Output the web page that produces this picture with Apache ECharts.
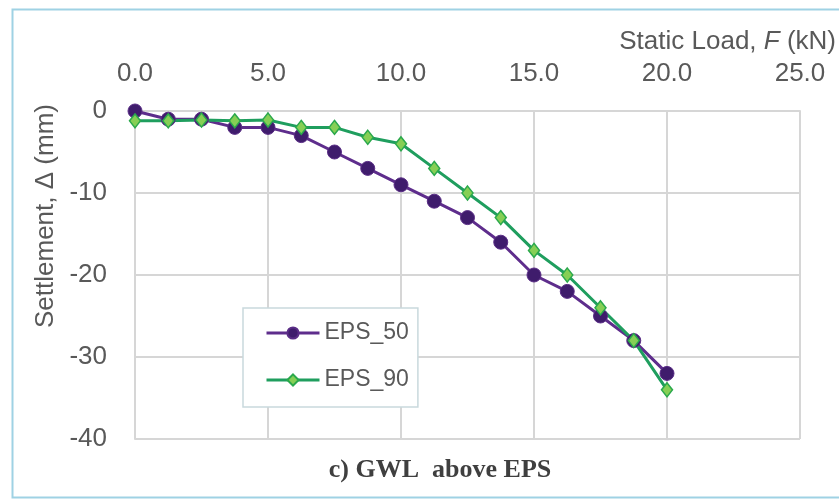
<!DOCTYPE html>
<html>
<head>
<meta charset="utf-8">
<style>
html,body{margin:0;padding:0;background:#fff;}
#chart{width:839px;height:499px;}
</style>
<script src="https://cdn.jsdelivr.net/npm/echarts@6/dist/echarts.min.js"></script>
</head>
<body>
<div id="chart"></div>
<script>
var loads = [0, 1.25, 2.5, 3.75, 5, 6.25, 7.5, 8.75, 10, 11.25, 12.5, 13.75, 15, 16.25, 17.5, 18.75, 20];
var eps50 = [0, -1, -1, -2, -2, -3, -5, -7, -9, -11, -13, -16, -20, -22, -25, -28, -32];
var eps90 = [-1.2, -1.2, -1.1, -1.2, -1.1, -2, -2, -3.2, -4, -7, -10, -13, -17, -20, -24, -28, -34];
var seriesNames = ['EPS_50', 'EPS_90'];
var xTicks = [0, 5, 10, 15, 20, 25];
var yTicks = [0, -10, -20, -30, -40];

function pairs(xs, ys) { return xs.map(function (x, i) { return [x, ys[i]]; }); }

var chart = echarts.init(document.getElementById('chart'), null, {renderer: 'canvas'});
var txt = '#595959';
var font = 'Liberation Sans, Arial, sans-serif';
chart.setOption({
  animation: false,
  backgroundColor: '#ffffff',
  textStyle: {fontFamily: font},
  title: {
    text: 'c) GWL  above EPS',
    left: 435, top: 452, textAlign: 'center',
    textStyle: {fontFamily: 'Liberation Serif, Times New Roman, serif', fontWeight: 'bold', fontSize: 26, color: '#3f3f3f'}
  },
  graphic: [{
    type: 'rect', left: 10, top: 7, silent: true,
    shape: {width: 840, height: 488},
    style: {fill: 'none', stroke: '#9fd2e4', lineWidth: 2}
  }],
  grid: {left: 135, right: 38, top: 111, bottom: 60, containLabel: false},
  legend: {
    data: seriesNames,
    orient: 'vertical',
    left: 243, top: 308,
    padding: [13, 9, 15, 22],
    backgroundColor: '#ffffff',
    borderColor: '#c9d9dd', borderWidth: 1.5,
    itemWidth: 53, itemHeight: 14, itemGap: 23,
    lineStyle: {width: 3},
    textStyle: {fontSize: 23, color: txt, lineHeight: 24, fontFamily: font, padding: [0, 0, 0, 0]}
  },
  xAxis: {
    type: 'value', position: 'top',
    min: 0, max: 25, interval: 5,
    name: 'Static Load, {i|F} (kN)',
    nameLocation: 'end', nameGap: 36,
    nameTextStyle: {
      align: 'right', verticalAlign: 'bottom', padding: [0, 0, 56, 0],
      fontSize: 26, color: txt, fontFamily: font,
      rich: {i: {fontStyle: 'italic', fontSize: 26, color: txt, fontFamily: font}}
    },
    axisLine: {show: true, lineStyle: {color: '#d6d6d6', width: 2}},
    axisTick: {show: false},
    axisLabel: {fontSize: 26, color: txt, margin: 24, fontFamily: font,
      formatter: function (v) { return xTicks.indexOf(v) >= 0 ? v.toFixed(1) : ''; }},
    splitLine: {show: true, lineStyle: {color: '#d6d6d6', width: 2}}
  },
  yAxis: {
    type: 'value',
    min: -40, max: 0, interval: 10,
    name: 'Settlement, \u0394 (mm)',
    nameLocation: 'middle', nameGap: 75,
    nameTextStyle: {fontSize: 26, color: txt, fontFamily: font, padding: [0, 0, 0, 118]},
    axisLine: {show: true, lineStyle: {color: '#d6d6d6', width: 2}},
    axisTick: {show: false},
    axisLabel: {fontSize: 26, color: txt, margin: 28, fontFamily: font,
      formatter: function (v) { return yTicks.indexOf(v) >= 0 ? String(v) : ''; }},
    splitLine: {show: true, lineStyle: {color: '#d6d6d6', width: 2}}
  },
  series: [{
    name: seriesNames[0], type: 'line',
    data: pairs(loads, eps50),
    symbol: 'circle', symbolSize: 14,
    lineStyle: {color: '#5e2d8c', width: 3},
    itemStyle: {color: '#3f1c6c', borderColor: '#5a2d86', borderWidth: 1}
  }, {
    name: seriesNames[1], type: 'line',
    data: pairs(loads, eps90),
    symbol: 'diamond', symbolSize: [11, 14],
    lineStyle: {color: '#1f9e5e', width: 3},
    itemStyle: {color: '#86cf55', borderColor: '#2aa84c', borderWidth: 1.5}
  }]
});
</script>
</body>
</html>
